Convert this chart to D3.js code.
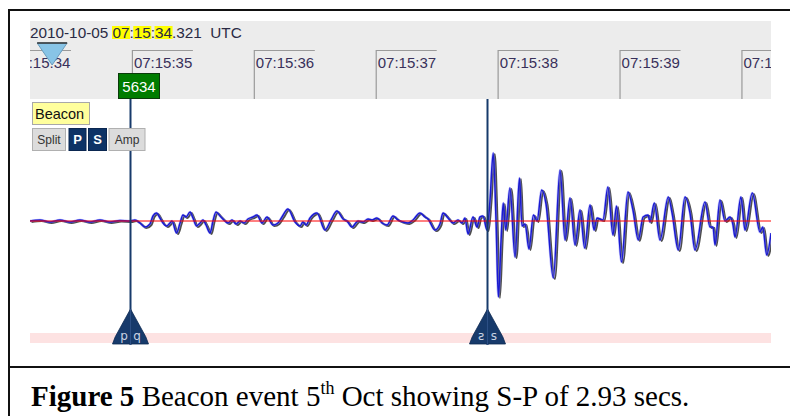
<!DOCTYPE html>
<html><head><meta charset="utf-8">
<script src="https://cdn.jsdelivr.net/npm/d3@7"></script>
<style>body{margin:0;background:#fff;} svg{display:block;} text{white-space:pre;}</style>
</head><body>
<svg id="c" width="790" height="416"></svg>
<script>
// ---------- data ----------
const tickMs = [0, 1000, 2000, 3000, 4000, 5000, 6000];          // ms after 07:15:34.000
const tickLabels = ["07:15:34","07:15:35","07:15:36","07:15:37","07:15:38","07:15:39","07:15:40"];
const dateParts = ["2010-10-05 ", "07", ":", "15", ":", "34", ".321  UTC"];
const dateHighlight = [false, true, false, true, false, true, false];
const cursorMs = 321;
const pickNames = ["P", "S"];
const pickMs = [984, 3913];
const pickLeftGlyph = ["p", "s"];
const pickRightGlyph = ["q", "s"];
const eventId = "5634";
const stationName = "Beacon";
const buttonLabels = ["Split", "P", "S", "Amp"];
const captionBold = "Figure 5";
const captionText = " Beacon event 5";
const captionSup = "th";
const captionRest = " Oct showing S-P of 2.93 secs.";

// waveform (ms after 07:15:34, counts relative to baseline)
const sampleMs = [164,246,328,410,492,574,656,738,820,902,984,
 1025,1066,1107,1148,1173,1202,1230,1255,1284,1312,1329,1366,1395,1419,1444,1477,1501,1530,1559,1583,1608,1641,1665,1690,1723,1755,1788,1821,1854,1887,1920,1952,1993,2026,2067,2108,2157,2198,2231,2280,2338,2379,2403,2428,2461,2518,2584,2633,2682,2732,2764,2805,2855,2896,2937,2969,3010,3052,3093,3142,3183,3224,3265,3306,3363,3404,3429,3486,3527,3552,3593,3634,3675,3708,3732,3757,3798,3831,3855,3880,3913,
 3937,3964,3987,4006,4028,4046,4066,4101,4143,4179,4200,4225,4257,4294,4323,4362,4397,4457,4512,4553,4594,4635,4676,4714,4758,4791,4815,4864,4905,4946,4975,5016,5069,5110,5154,5193,5234,5250,5285,5332,5400,5431,5482,5537,5578,5619,5701,5742,5767,5783,5824,5865,5906,5931,5947,5996,6029,6089,6152,6175,6207,6243];
const sampleCounts = [0,1,-1,1,-1,1,-1,1,-1,0.5,0,
 1,-2,-6,-3,5,8,3,-2,-5,-2,0,-12,-2,6,4,9,3,-5,-2,1,-4,-12,0,9,5,1,-2,1,-3,0,-2,2,4,6,-2,4,-4,-2,4,12,-1,-5,-1,-4,3,8,-9,1,10,2,0,-6,0,-1,2,1,3,-2,-4,5,1,-1,-2,1,8,4,2,-9,-3,8,3,-2,1,-2,3,-13,4,-6,4,5,-9,
 20,68,0,-76,-20,18,-9,33,-36,43,-5,-3,-28,6,0,31,17,-57,51,-19,23,-24,11,-27,16,-9,3,1,34,-14,15,-41,29,11,-19,4,6,-1,18,-19,24,8,-29,24,8,-29,19,-6,-6,-24,21,0,4,-4,-16,24,-9,28,-11,-6,-34,-12];

// ---------- layout ----------
const svg = d3.select("#c");
const L = 30, R = 771, headTop = 21, headBot = 99, plotBot = 345;
const x = d3.scaleLinear().domain([0, 6000]).range([10, 10 + 6000 / 8.203]);
const y = d3.scaleLinear().domain([-120, 120]).range([341, 101]);
const navy = "#173a6b";

svg.append("rect").attr("width", 790).attr("height", 416).attr("fill", "#fff");

const defs = svg.append("defs");
defs.append("clipPath").attr("id", "headClip").append("rect")
  .attr("x", L).attr("y", headTop).attr("width", R - L).attr("height", headBot - headTop);
defs.append("clipPath").attr("id", "plotClip").append("rect")
  .attr("x", L).attr("y", headBot).attr("width", R - L).attr("height", plotBot - headBot);

// header
svg.append("rect").attr("x", L).attr("y", headTop).attr("width", R - L).attr("height", headBot - headTop).attr("fill", "#ececec");

const hg = svg.append("g").attr("clip-path", "url(#headClip)");
const ticks = hg.selectAll("g.tick").data(tickMs).join("g").attr("class", "tick")
  .attr("transform", d => `translate(${x(d)},0)`);
ticks.append("path").attr("d", "M0.5,99 V50.5 H61").attr("fill", "none").attr("stroke", "#9a9a9a").attr("stroke-width", 1.2);
ticks.append("text").attr("x", 2).attr("y", 68).attr("font-family", "Liberation Sans, Arial, sans-serif")
  .attr("font-size", 15).attr("fill", "#38305a").text((d, i) => tickLabels[i]);

// date line with highlights
let dx = 30;
const dg = svg.append("g");
dateParts.forEach((s, i) => {
  const t = dg.append("text").attr("x", dx).attr("y", 38).attr("font-family", "Liberation Sans, Arial, sans-serif")
    .attr("font-size", 15.3).attr("fill", "#2a2a44").text(s);
  const w = t.node().getComputedTextLength();
  if (dateHighlight[i]) {
    dg.insert("rect", "text").attr("x", dx - 0.5).attr("y", 26).attr("width", w + 1).attr("height", 13).attr("fill", "#ffff00");
  }
  dx += w;
});

// time cursor triangle
const cx = x(cursorMs) + 3;
svg.append("path").attr("d", `M${cx - 15},43 L${cx + 15},43 L${cx},65 Z`)
  .attr("fill", "#88c4e6").attr("stroke", "#6a9cbc").attr("stroke-width", 1);
svg.append("line").attr("x1", cx - 15).attr("x2", cx + 15).attr("y1", 43).attr("y2", 43).attr("stroke", "#333").attr("stroke-width", 1.5);

// pink band
svg.append("rect").attr("x", L).attr("y", 333).attr("width", R - L).attr("height", 10).attr("fill", "#fde2e2");

// waveform
const pg = svg.append("g").attr("clip-path", "url(#plotClip)");
const pts = sampleMs.map((m, i) => [m, sampleCounts[i]]);
const line = d3.line().x(d => x(d[0])).y(d => y(d[1])).curve(d3.curveMonotoneX);
pg.append("path").attr("d", line(pts)).attr("fill", "none").attr("stroke", "#111").attr("stroke-opacity", 0.75)
  .attr("stroke-width", 2).attr("transform", "translate(1.5,1)");
pg.append("path").attr("d", line(pts)).attr("fill", "none").attr("stroke", "#8080ff").attr("stroke-opacity", 0.5)
  .attr("stroke-width", 2.6);
pg.append("path").attr("d", line(pts)).attr("fill", "none").attr("stroke", "#1a1ad0").attr("stroke-width", 1.5);

// zero line
svg.append("line").attr("x1", L).attr("x2", R).attr("y1", y(0)).attr("y2", y(0)).attr("stroke", "#ff0000").attr("stroke-width", 1);

// picks
pickMs.forEach((m, i) => {
  const px = Math.round(x(m)) + 0.5;
  svg.append("line").attr("x1", px).attr("x2", px).attr("y1", headBot).attr("y2", 345).attr("stroke", navy).attr("stroke-width", 2);
  const g = svg.append("g").attr("transform", `translate(${px},344)`);
  g.append("path").attr("d", "M0,-35 L-11,-15 Q-16,-7 -18,0 L18,0 Q16,-7 11,-15 Z").attr("fill", navy).attr("stroke", "#0e2a52").attr("stroke-width", 0.8);
  g.append("line").attr("x1", 0).attr("x2", 0).attr("y1", -35).attr("y2", 1).attr("stroke", "#2c4f85").attr("stroke-width", 1);
  const gl = g.append("g").attr("transform", i === 1 ? "translate(-6.5,0) scale(-1,1)" : "translate(-6.5,0)");
  gl.append("text").attr("x", 0).attr("y", -4).attr("text-anchor", "middle").attr("font-family", "DejaVu Sans, sans-serif")
    .attr("font-size", 12).attr("fill", "#c9d3e3").text(pickLeftGlyph[i]);
  g.append("text").attr("x", 6.5).attr("y", -4).attr("text-anchor", "middle").attr("font-family", "DejaVu Sans, sans-serif")
    .attr("font-size", 12).attr("fill", "#c9d3e3").text(pickRightGlyph[i]);
});

// event id box
const p0 = Math.round(x(pickMs[0]));
svg.append("rect").attr("x", p0 - 11.5).attr("y", 73.5).attr("width", 41).attr("height", 25).attr("fill", "#007c00").attr("stroke", "#0a3a0a");
svg.append("text").attr("x", p0 + 9).attr("y", 92).attr("text-anchor", "middle").attr("font-family", "Liberation Sans, Arial, sans-serif")
  .attr("font-size", 15).attr("fill", "#fff").text(eventId);

// station label + buttons
svg.append("rect").attr("x", 32.5).attr("y", 102.5).attr("width", 57).attr("height", 22).attr("fill", "#ffff9c").attr("stroke", "#a8a8a8");
svg.append("text").attr("x", 35).attr("y", 119).attr("font-family", "Liberation Sans, Arial, sans-serif").attr("font-size", 14.5).attr("fill", "#111").text(stationName);
const btnX = [32, 68.5, 88, 108.5], btnW = [33, 17, 18, 36];
buttonLabels.forEach((b, i) => {
  const dark = i === 1 || i === 2;
  svg.append("rect").attr("x", btnX[i] + 0.5).attr("y", 128.5).attr("width", btnW[i]).attr("height", 22)
    .attr("fill", dark ? "#0d3366" : "#dcdcdc").attr("stroke", dark ? "#0a2650" : "#b0b0b0");
  svg.append("text").attr("x", btnX[i] + 0.5 + btnW[i] / 2).attr("y", 144).attr("text-anchor", "middle")
    .attr("font-family", "Liberation Sans, Arial, sans-serif").attr("font-size", dark ? 13 : 12)
    .attr("font-weight", dark ? "bold" : "normal").attr("fill", dark ? "#fff" : "#333").text(b);
});

// frame
svg.append("path").attr("d", "M9,416 V10 H790 M9,367 H790").attr("fill", "none").attr("stroke", "#111").attr("stroke-width", 2);

// caption
const cap = svg.append("text").attr("x", 31).attr("y", 406).attr("font-family", "Liberation Serif, Times New Roman, serif")
  .attr("font-size", 29).attr("fill", "#000");
cap.append("tspan").attr("font-weight", "bold").text(captionBold);
cap.append("tspan").text(captionText);
cap.append("tspan").attr("font-size", 18).attr("dy", -12).text(captionSup);
cap.append("tspan").attr("dy", 12).text(captionRest);
</script>
</body></html>
